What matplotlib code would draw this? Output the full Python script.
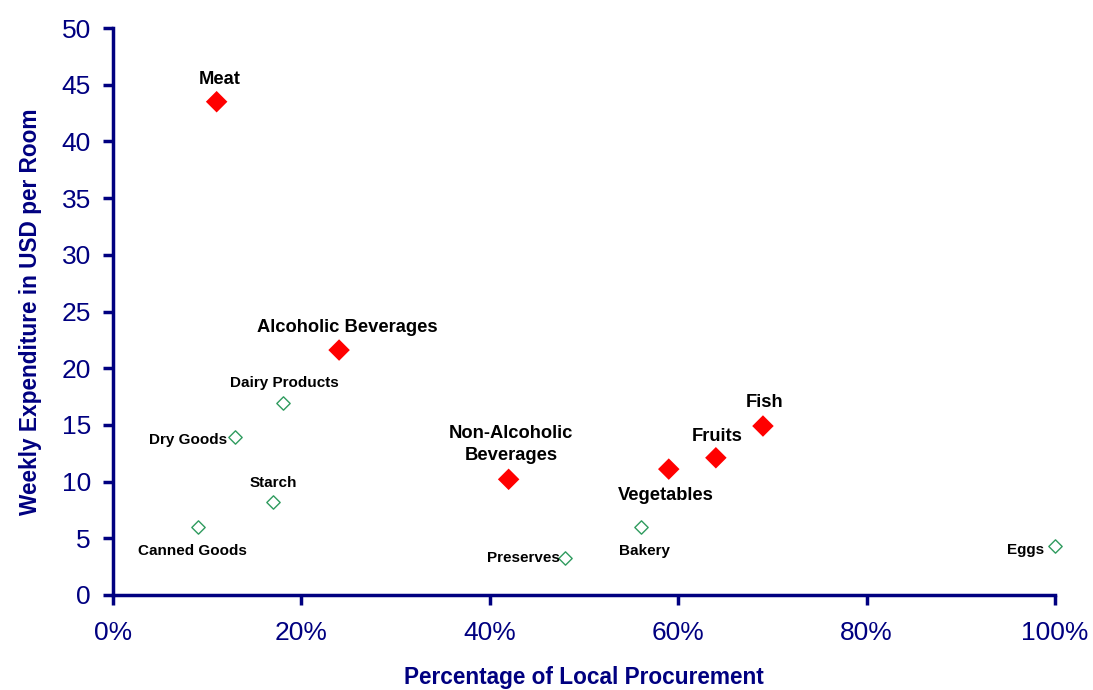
import matplotlib
matplotlib.use("Agg")
import matplotlib.pyplot as plt
from matplotlib.ticker import PercentFormatter, MultipleLocator

plt.rcParams['font.family'] = ['Liberation Sans', 'DejaVu Sans']

# Major categories (filled red diamonds)
major_names = ["Meat", "Alcoholic Beverages", "Non-Alcoholic\nBeverages",
               "Vegetables", "Fruits", "Fish"]
major_local = [0.11, 0.24, 0.42, 0.59, 0.64, 0.69]
major_spend = [43.5, 21.6, 10.2, 11.1, 12.1, 14.9]

# Minor categories (hollow green diamonds)
minor_names = ["Dairy Products", "Dry Goods", "Starch", "Canned Goods",
               "Preserves", "Bakery", "Eggs"]
minor_local = [0.18, 0.13, 0.17, 0.09, 0.48, 0.56, 1.00]
minor_spend = [16.9, 13.9, 8.2, 6.0, 3.3, 6.0, 4.3]

navy = "#000080"

fig = plt.figure(figsize=(10.93, 6.9), dpi=100)
ax = fig.add_axes([0.1034, 0.1377, 0.8618, 0.8217])

ax.scatter(minor_local, minor_spend, marker="D", s=46, facecolors="white",
           edgecolors="#2E9B5E", linewidths=1.0, zorder=3, clip_on=False)
ax.scatter(major_local, major_spend, marker="D", s=120, color="#FF0000",
           edgecolors="none", zorder=3, clip_on=False)

# label offsets in points (dx, dy, ha, va)
major_off = [(2, 16, "center", "center"), (6, 16, "center", "center"),
             (2, 11, "center", "bottom"), (-2, -19, "center", "center"),
             (1, 15, "center", "center"), (1, 17, "center", "center")]
minor_off = [(1, 15, "center", "center"), (-6, -2, "right", "center"),
             (0, 14, "center", "center"), (-4, -17, "center", "center"),
             (-4, 0, "right", "center"), (3, -17, "center", "center"),
             (-8, -3, "right", "center")]

for name, x, y, (dx, dy, ha, va) in zip(major_names, major_local, major_spend, major_off):
    ax.annotate(name, (x, y), xytext=(dx, dy), textcoords="offset points",
                ha=ha, va=va, fontsize=13.2, fontweight="bold", color="black",
                linespacing=1.35)

for name, x, y, (dx, dy, ha, va) in zip(minor_names, minor_local, minor_spend, minor_off):
    ax.annotate(name, (x, y), xytext=(dx, dy), textcoords="offset points",
                ha=ha, va=va, fontsize=11, fontweight="bold", color="black")

ax.set_xlim(0, 1.0)
ax.set_ylim(0, 50)
ax.xaxis.set_major_locator(MultipleLocator(0.2))
ax.xaxis.set_major_formatter(PercentFormatter(1.0, decimals=0))
ax.yaxis.set_major_locator(MultipleLocator(5))

for side in ("top", "right"):
    ax.spines[side].set_visible(False)
for side in ("left", "bottom"):
    ax.spines[side].set_color(navy)
    ax.spines[side].set_linewidth(2.5)

ax.tick_params(axis="both", colors=navy, labelcolor=navy, labelsize=19,
               width=2.5, length=7, direction="out")
ax.tick_params(axis="x", pad=12)
ax.tick_params(axis="y", pad=9)

ax.set_xlabel("Percentage of Local Procurement", fontsize=16.3, fontweight="bold",
              color=navy, labelpad=15)
ax.set_ylabel("Weekly Expenditure in USD per Room", fontsize=16.3, fontweight="bold",
              color=navy, labelpad=14)

fig.savefig("out.png", dpi=100, facecolor="white")
